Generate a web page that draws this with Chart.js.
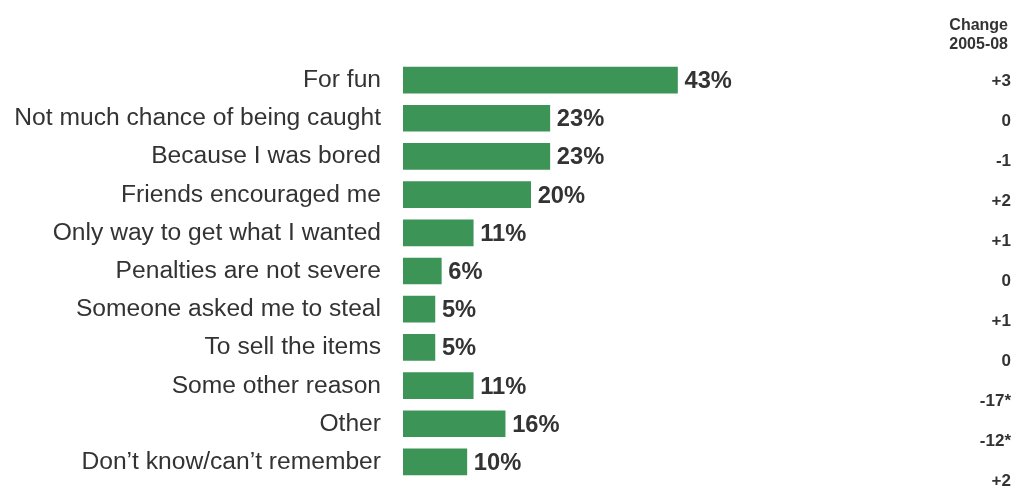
<!DOCTYPE html>
<html>
<head>
<meta charset="utf-8">
<script src="https://cdn.jsdelivr.net/npm/chart.js@4/dist/chart.umd.min.js"></script>
<style>
  html, body { margin: 0; padding: 0; background: #fff; }
  #wrap { width: 1015px; height: 489px; position: relative; }
</style>
</head>
<body>
<div id="wrap"><canvas id="reasonsChart"></canvas></div>
<script>
// data
const reasons = [
    'For fun',
    'Not much chance of being caught',
    'Because I was bored',
    'Friends encouraged me',
    'Only way to get what I wanted',
    'Penalties are not severe',
    'Someone asked me to steal',
    'To sell the items',
    'Some other reason',
    'Other',
    'Don\u2019t know/can\u2019t remember'
];
const percentages = [43, 23, 23, 20, 11, 6, 5, 5, 11, 16, 10];
const changes = ['+3', '0', '-1', '+2', '+1', '0', '+1', '0', '-17*', '-12*', '+2'];
const changeHeader = ['Change', '2005-08'];

const barGreen = '#3c9557';
const textGrey = '#333333';
const fontFam = '"Liberation Sans", Arial, sans-serif';

// text drawn a touch wider, like the original slide
function stretchedText(ctx, text, x, y, sx) {
    ctx.save();
    ctx.translate(x, y);
    ctx.scale(sx, 1);
    ctx.fillText(text, 0, 0);
    ctx.restore();
}

// category labels, value labels and change column
const labelPlugin = {
    id: 'labelPlugin',
    afterDatasetsDraw(chart) {
        const ctx = chart.ctx;
        const meta = chart.getDatasetMeta(0);
        const yScale = chart.scales.y;
        const area = chart.chartArea;
        ctx.save();
        ctx.fillStyle = textGrey;
        ctx.textBaseline = 'alphabetic';

        // category names, right aligned left of the bars
        ctx.font = '23px ' + fontFam;
        ctx.textAlign = 'right';
        chart.data.labels.forEach((lab, i) => {
            stretchedText(ctx, lab, area.left - 22, yScale.getPixelForValue(i) + 7, 1.07);
        });

        // percentage next to each bar
        ctx.font = 'bold 23px ' + fontFam;
        ctx.textAlign = 'left';
        meta.data.forEach((bar, i) => {
            stretchedText(ctx, percentages[i] + '%', bar.x + 7, bar.y + 8, 1.03);
        });

        // change column (it drifts a bit lower than the bars)
        ctx.textAlign = 'right';
        ctx.font = 'bold 16px ' + fontFam;
        ctx.fillText(changeHeader[0], chart.width - 7, 30);
        ctx.fillText(changeHeader[1], chart.width - 7, 49);
        ctx.font = 'bold 17px ' + fontFam;
        changes.forEach((c, i) => {
            ctx.fillText(c, chart.width - 4, yScale.getPixelForValue(i) + 6 + i * 1.85);
        });
        ctx.restore();
    }
};

const ctx = document.getElementById('reasonsChart').getContext('2d');
new Chart(ctx, {
    type: 'bar',
    data: {
        labels: reasons,
        datasets: [{
            data: percentages,
            backgroundColor: barGreen,
            borderWidth: 0,
            barThickness: 26
        }]
    },
    options: {
        indexAxis: 'y',
        responsive: true,
        maintainAspectRatio: false,
        animation: false,
        layout: { padding: { left: 403, right: 229, top: 61, bottom: 8 } },
        plugins: {
            legend: { display: false },
            tooltip: { enabled: false }
        },
        scales: {
            x: { display: false, min: 0, max: 60 },
            y: { display: false }
        }
    },
    plugins: [labelPlugin]
});
</script>
</body>
</html>
